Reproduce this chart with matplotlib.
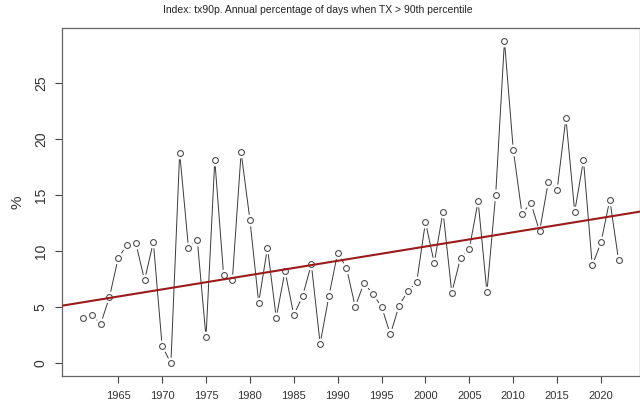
import numpy as np
import matplotlib
matplotlib.use("Agg")
import matplotlib.pyplot as plt

plt.rcParams['font.family'] = ['Liberation Sans', 'DejaVu Sans']

# annual tx90p values
years = list(range(1961, 2023))
tx90p = [4.06, 4.33, 3.5, 5.9, 9.38, 10.54, 10.72, 7.4, 10.8, 1.54,
         0.0, 18.77, 10.3, 11.02, 2.32, 18.12, 7.9, 7.45, 18.8, 12.8,
         5.4, 10.3, 4.06, 8.22, 4.3, 5.97, 8.82, 1.75, 5.97, 9.86,
         8.49, 5.05, 7.16, 6.18, 5.05, 2.58, 5.14, 6.44, 7.22, 12.59,
         8.94, 13.51, 6.29, 9.41, 10.21, 14.44, 6.33, 15.03, 28.75, 19.04,
         13.31, 14.29, 11.76, 16.19, 15.47, 21.86, 13.51, 18.09, 8.73, 10.78,
         14.58, 9.18]
x_ticks = [1965, 1970, 1975, 1980, 1985, 1990, 1995, 2000, 2005, 2010, 2015, 2020]
y_ticks = [0, 5, 10, 15, 20, 25]

# trend line (value at 1960, change per year)
trend_1960 = 5.31
trend_slope = 0.1273

yrs = np.array(years)
vals = np.array(tx90p)

fig = plt.figure(figsize=(6.4, 4.08), dpi=100)
ax = fig.add_axes([0.0964, 0.078, 0.9036, 0.854])

# R style type="b": line with gaps around the points
ax.plot(yrs, vals, color='#3a3a3a', lw=0.7, zorder=2)
ax.plot(yrs, vals, ls='none', marker='o', ms=7.5, mfc='white', mec='white', zorder=3)
ax.plot(yrs, vals, ls='none', marker='o', ms=4.2, mfc='none', mec='#444444', mew=0.75, zorder=4)

# linear trend across the whole plot
xlim = (1958.56, 2024.44)
xl = np.array(xlim)
ax.plot(xl, trend_1960 + trend_slope * (xl - 1960), color='#9b1b1b', lw=1.5, zorder=5)

ax.set_xlim(*xlim)
ax.set_ylim(-1.15, 29.9)
ax.set_xticks(x_ticks)
ax.set_yticks(y_ticks)
ax.tick_params(axis='both', length=5, width=0.8, color='#444444',
               labelcolor='#333333', pad=6)
ax.tick_params(axis='x', labelsize=8)
ax.tick_params(axis='y', labelsize=10, pad=5)
for lbl in ax.get_yticklabels():
    lbl.set_rotation(90)
    lbl.set_va('center')
for s in ax.spines.values():
    s.set_color('#666666')
    s.set_linewidth(0.9)
ax.set_ylabel('%', fontsize=11, labelpad=7, color='#333333')

fig.text(318 / 640, 1 - 10 / 408, 'Index: tx90p. Annual percentage of days when TX > 90th percentile',
         ha='center', va='center', fontsize=7.5, color='#222222')

fig.savefig('out.png', dpi=100)
